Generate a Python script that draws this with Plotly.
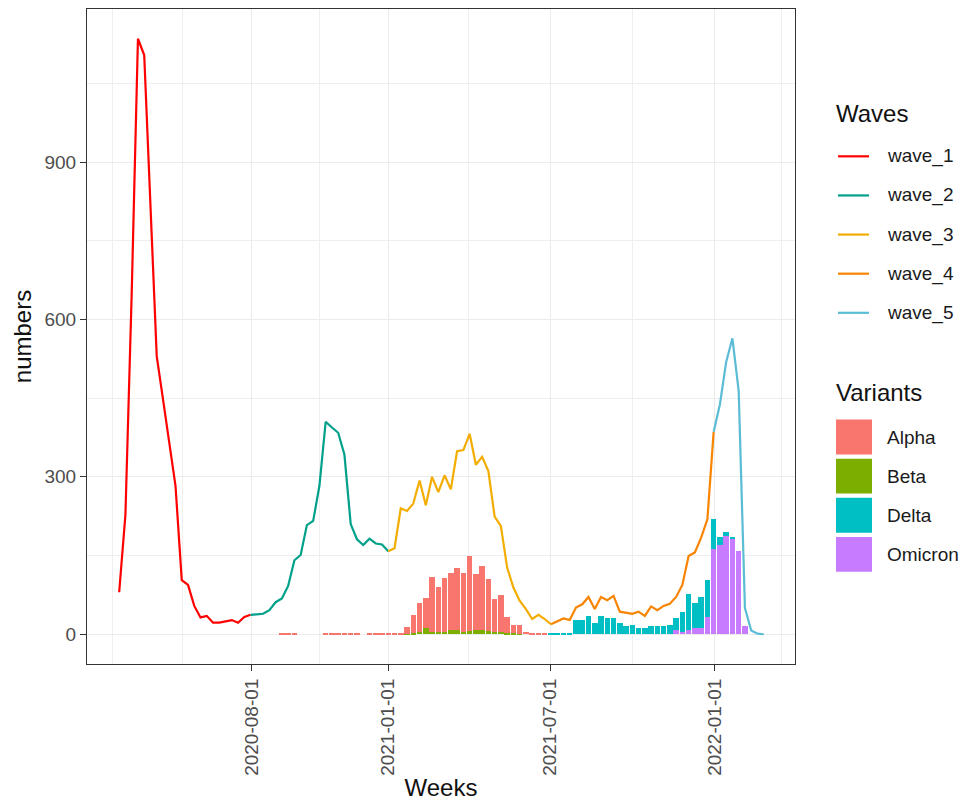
import pandas as pd
import plotly.graph_objects as go

# ---------------- data ----------------
WEEK0 = "2020-03-06"
N_WEEKS = 104
weeks = pd.date_range(WEEK0, periods=N_WEEKS, freq="7D")

wave_names = ["wave_1", "wave_2", "wave_3", "wave_4", "wave_5"]
wave_colors = ["#FF0000", "#00A08A", "#F2AD00", "#F98400", "#5BBCD6"]
wave_start = [0, 21, 43, 69, 95]          # index into weeks
wave_1 = [80, 228, 650, 1135, 1104, 830, 530, 448, 365, 283, 103, 94, 54, 32, 35,
          22, 22, 24, 27, 22, 33, 37]
wave_2 = [37, 38, 39, 46, 61, 68, 92, 141, 151, 208, 216, 283, 405, 394, 384, 342,
          210, 181, 170, 182, 173, 171, 158]
wave_3 = [158, 164, 240, 235, 249, 293, 246, 300, 271, 303, 276, 349, 351, 382, 323,
          338, 311, 224, 206, 127, 89, 64, 48, 29, 37, 29, 19]
wave_4 = [19, 24, 30, 27, 51, 57, 71, 48, 71, 65, 73, 43, 41, 39, 43, 35, 53, 46, 54,
          58, 71, 94, 149, 156, 184, 219, 386]
wave_5 = [386, 438, 519, 564, 464, 50, 7, 1, 0]
wave_values = [wave_1, wave_2, wave_3, wave_4, wave_5]

variant_names = ["Alpha", "Beta", "Delta", "Omicron"]
variant_colors = ["#F8766D", "#7CAE00", "#00BFC4", "#C77CFF"]
variant_start = [26, 46, 69, 89]
alpha = [0.6, 0.6, 0.6, 0, 0, 0, 0, 0.6, 0.6, 0.6, 0.6, 0.6, 0.6, 0, 0.6, 0.6, 0.6,
         1, 2, 3, 12, 34, 54, 58, 104, 86, 102, 108, 118, 111, 143, 106, 121, 98,
         62, 69, 29, 15, 16, 4, 3, 2, 1]
beta = [1, 3, 5, 11, 5, 4, 5, 8, 8, 5, 6, 8, 9, 7, 5, 5, 3, 2, 1]
delta = [1, 1, 2, 2, 27, 27, 35, 22, 35, 30, 30, 21, 15, 18, 11, 11, 15, 15, 15, 18,
         22, 39, 69, 49, 60, 71, 57, 15, 8, 4]
omicron = [8, 4, 8, 11, 11, 32, 162, 171, 187, 181, 159, 16]
variant_values = [alpha, beta, delta, omicron]

x_tick_vals = ["2020-08-01", "2021-01-01", "2021-07-01", "2022-01-01"]
x_minor_vals = ["2020-02-28", "2020-05-16", "2020-10-16", "2021-04-01",
                "2021-10-01", "2022-03-17"]
y_tick_vals = [0, 300, 600, 900]
y_minor_vals = [150, 450, 750, 1050]

# ---------------- figure ----------------
fig = go.Figure()
BAR_W = 0.88 * 7 * 24 * 3600 * 1000

# stacking order: first level drawn on top (ggplot) -> add lower ones first
for k in [1, 0, 3, 2]:
    vals = variant_values[k]
    s = variant_start[k]
    xs = weeks[s:s + len(vals)]
    fig.add_trace(go.Bar(x=xs, y=vals, name=variant_names[k],
                         marker=dict(color=variant_colors[k], line=dict(width=0)),
                         width=[BAR_W] * len(vals), showlegend=False))

for name, col, s, vals in zip(wave_names, wave_colors, wave_start, wave_values):
    xs = weeks[s:s + len(vals)]
    fig.add_trace(go.Scatter(x=xs, y=vals, mode="lines", name=name,
                             line=dict(color=col, width=2.2), showlegend=False))

# plot area in pixels
L, R, T, B = 87, 795, 8, 666
W_, H_ = R - L, B - T


def px(xp):
    return (xp - L) / W_


def py(yp):
    return (B - yp) / H_


fig.update_layout(
    width=963, height=805,
    margin=dict(l=L, r=963 - R, t=T, b=805 - B),
    plot_bgcolor="white", paper_bgcolor="white",
    barmode="stack", bargap=0, showlegend=False,
    font=dict(family="Liberation Sans, Arial, sans-serif"),
)

fig.update_xaxes(
    type="date", range=["2020-01-30", "2022-04-01"],
    tickmode="array", tickvals=x_tick_vals, ticktext=x_tick_vals,
    tickangle=-90, ticks="outside", ticklen=6, tickwidth=1.1, tickcolor="#333333",
    tickfont=dict(size=19, color="#4D4D4D"),
    showgrid=True, gridcolor="#EBEBEB", gridwidth=1.3,
    minor=dict(tickmode="array", tickvals=x_minor_vals, showgrid=True,
               gridcolor="#EFEFEF", gridwidth=0.8, ticks=""),
    showline=True, mirror=True, linecolor="#333333", linewidth=1.1, zeroline=False,
    title=dict(text="Weeks", font=dict(size=24, color="#111111"), standoff=4),
)
fig.update_yaxes(
    range=[-56.75, 1191.75],
    tickmode="array", tickvals=y_tick_vals,
    ticks="outside", ticklen=6, tickwidth=1.1, tickcolor="#333333",
    tickfont=dict(size=19, color="#4D4D4D"),
    showgrid=True, gridcolor="#EBEBEB", gridwidth=1.3,
    minor=dict(tickmode="array", tickvals=y_minor_vals, showgrid=True,
               gridcolor="#EFEFEF", gridwidth=0.8, ticks=""),
    showline=True, mirror=True, linecolor="#333333", linewidth=1.1, zeroline=False,
    title=dict(text="numbers", font=dict(size=24, color="#111111"), standoff=6),
)

# ---------------- legends (drawn) ----------------
shapes = []
annots = []
annots.append(dict(x=px(834), y=py(113), xref="paper", yref="paper", text="Waves",
                   showarrow=False, xanchor="left", yanchor="middle",
                   font=dict(size=24, color="#111111")))
for i, (name, col) in enumerate(zip(wave_names, wave_colors)):
    yc = 156 + 39.3 * i
    shapes.append(dict(type="line", xref="paper", yref="paper",
                       x0=px(838), x1=px(869), y0=py(yc), y1=py(yc),
                       line=dict(color=col, width=2.2)))
    annots.append(dict(x=px(885), y=py(yc), xref="paper", yref="paper", text=name,
                       showarrow=False, xanchor="left", yanchor="middle",
                       font=dict(size=19, color="#1A1A1A")))
annots.append(dict(x=px(834), y=py(393), xref="paper", yref="paper", text="Variants",
                   showarrow=False, xanchor="left", yanchor="middle",
                   font=dict(size=24, color="#111111")))
for i, (name, col) in enumerate(zip(variant_names, variant_colors)):
    yc = 438 + 39.3 * i
    shapes.append(dict(type="rect", xref="paper", yref="paper",
                       x0=px(836), x1=px(872), y0=py(yc - 17.5), y1=py(yc + 17.5),
                       fillcolor=col, line=dict(width=0)))
    annots.append(dict(x=px(885), y=py(yc), xref="paper", yref="paper", text=name,
                       showarrow=False, xanchor="left", yanchor="middle",
                       font=dict(size=19, color="#1A1A1A")))

fig.update_layout(shapes=shapes, annotations=annots)

fig.write_html("out.html", config={"displayModeBar": False},
               post_script="document.body.style.margin='0';document.body.style.padding='0';")
